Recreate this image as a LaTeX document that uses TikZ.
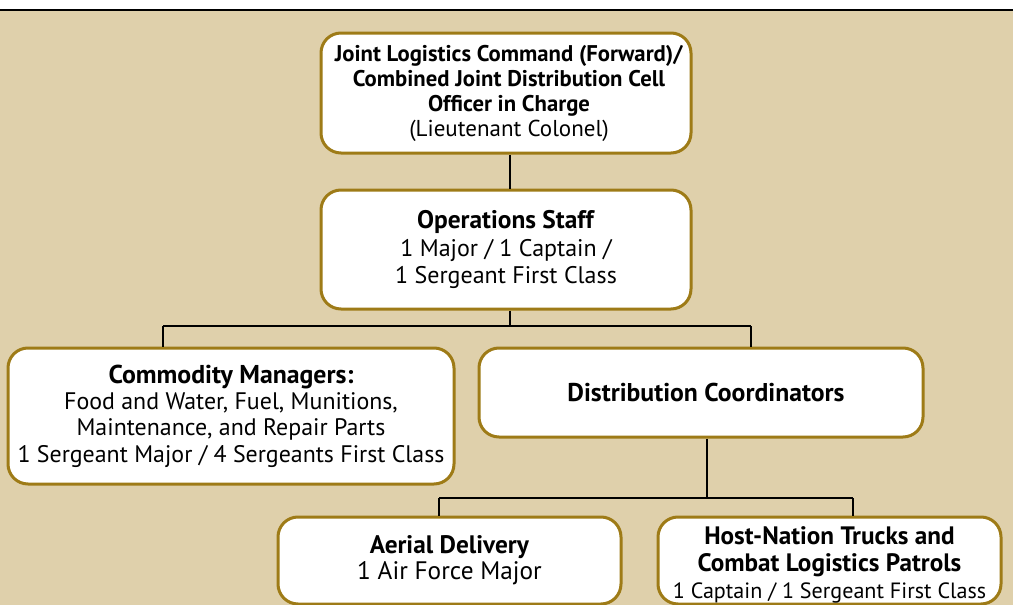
\documentclass[tikz,border=0pt]{standalone}
\usepackage{fontspec}
\setmainfont{PT Sans}
\definecolor{tan}{RGB}{223,208,171}
\definecolor{gold}{RGB}{158,123,23}
\newcommand{\fs}[2]{\fontsize{#1}{#2}\selectfont}
\begin{document}
\begin{tikzpicture}[x=1pt,y=-1pt,
  box/.style={draw=gold,line width=3pt,fill=white,rounded corners=20pt,align=center,inner sep=0pt},
  conn/.style={draw=black,line width=2.5pt}]
\useasboundingbox (0,0) rectangle (1013,605);
\fill[white] (0,0) rectangle (1013,10);
\fill[tan] (0,10) rectangle (1013,605);
\draw[line width=2pt] (0,10) -- (1013,10);

\node[box,font=\fs{22.7}{25},minimum width=370pt,minimum height=120pt] (A) at (506,93)
  {\hspace*{6pt}\textbf{Joint Logistics Command (Forward)/}\\ \hspace*{6pt}\textbf{Combined Joint Distribution Cell}\\ \hspace*{6pt}\textbf{Officer in Charge}\\ \hspace*{6pt}\fs{23}{25}(Lieutenant Colonel)};
\node[box,font=\fs{24}{27.5},minimum width=370pt,minimum height=119pt] (B) at (506,249.5)
  {\fs{25.4}{27.5}\textbf{Operations Staff}\\ \fs{24}{27.5}1 Major / 1 Captain /\\ \fs{24}{27.5}1 Sergeant First Class};
\node[box,font=\fs{23.9}{26.3},minimum width=446pt,minimum height=136pt] (C) at (231,416)
  {\fs{25.8}{26.3}\textbf{Commodity Managers:}\\ \fs{23.9}{26.3}Food and Water, Fuel, Munitions,\\ \fs{23.9}{26.3}Maintenance, and Repair Parts\\ \fs{23.9}{26.3}1 Sergeant Major / 4 Sergeants First Class};
\node[box,font=\fs{25.7}{27},minimum width=444pt,minimum height=89pt] (D) at (701,392.5)
  {\hspace*{10pt}\textbf{Distribution Coordinators}};
\node[box,font=\fs{25.3}{26},minimum width=343pt,minimum height=87pt] (E) at (449.5,560.5)
  {\textbf{Aerial Delivery}\\ 1 Air Force Major};
\node[box,font=\fs{25.2}{27},minimum width=343pt,minimum height=87pt] (F) at (829.5,560.5)
  {\rule{0pt}{26pt}\textbf{Host-Nation Trucks and}\\ \textbf{Combat Logistics Patrols}\\ \fs{22.1}{27}1 Captain / 1 Sergeant First Class};

\coordinate (j1) at (510,326);
\coordinate (jL) at (163,326);
\coordinate (jR) at (751,326);
\coordinate (j2) at (707,498);
\coordinate (kL) at (439,498);
\coordinate (kR) at (853,498);

\draw[conn] (A.south -| j1) -- (B.north -| j1);
\draw[conn] (B.south -| j1) -- (j1);
\draw[conn] (jL) -- (jR);
\draw[conn] (jL) -- (C.north -| jL);
\draw[conn] (jR) -- (D.north -| jR);
\draw[conn] (D.south -| j2) -- (j2);
\draw[conn] (kL) -- (kR);
\draw[conn] (kL) -- (E.north -| kL);
\draw[conn] (kR) -- (F.north -| kR);
\end{tikzpicture}
\end{document}
